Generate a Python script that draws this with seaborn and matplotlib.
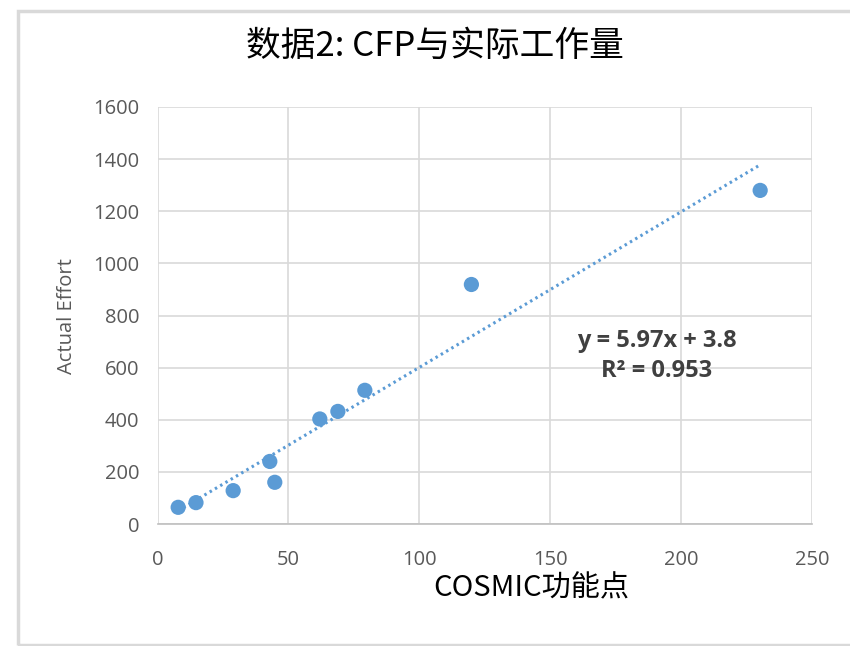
import matplotlib
matplotlib.use("Agg")
import matplotlib.pyplot as plt
import seaborn as sns
import numpy as np
import pandas as pd
from matplotlib.patches import Rectangle

# Data
cosmic_fp = [7.9, 14.7, 28.9, 42.9, 44.8, 62.0, 68.9, 79.2, 119.9, 230.2]
actual_effort = [64, 82, 128, 240, 160, 403, 432, 513, 919, 1280]
slope = 5.97
intercept = 3.8
r_squared = 0.953
x_ticks = [0, 50, 100, 150, 200, 250]
y_ticks = [0, 200, 400, 600, 800, 1000, 1200, 1400, 1600]
title_text = "数据2: CFP与实际工作量"
x_label = "COSMIC功能点"
y_label = "Actual Effort"

df = pd.DataFrame({"cfp": cosmic_fp, "effort": actual_effort})

sns.set_theme(style="whitegrid")
plt.rcParams["font.family"] = ["Noto Sans CJK SC", "DejaVu Sans"]

blue = "#5B9BD5"
tick_gray = "#595959"

fig = plt.figure(figsize=(8.5, 6.46), dpi=100)
fig.patch.set_facecolor("white")
# outer chart border
fig.patches.append(Rectangle((18 / 850, 1 / 646), 1.0, 1 - 11 / 646 - 1 / 646,
                             transform=fig.transFigure, fill=False,
                             edgecolor="#d9d9d9", linewidth=2.5, zorder=0))

ax = fig.add_axes([157.5 / 850, 1 - 524 / 646, (812 - 157.5) / 850, (524 - 107) / 646])

# trendline
xs = np.array([min(cosmic_fp), max(cosmic_fp)])
line_df = pd.DataFrame({"cfp": xs, "effort": slope * xs + intercept})
sns.lineplot(data=line_df, x="cfp", y="effort", ax=ax, color=blue,
             linestyle=(0, (0.8, 1.2)), linewidth=2.2, zorder=2)

sns.scatterplot(data=df, x="cfp", y="effort", ax=ax, color=blue, s=120,
                edgecolor="none", zorder=3)

ax.set_xlim(0, 250)
ax.set_ylim(0, 1600)
ax.set_xticks(x_ticks)
ax.set_yticks(y_ticks)
ax.grid(True, color="#d9d9d9", linewidth=1.2)
for s in ax.spines.values():
    s.set_visible(False)
ax.spines["bottom"].set_visible(True)
ax.spines["bottom"].set_color("#bfbfbf")
ax.spines["bottom"].set_linewidth(1.2)
ax.tick_params(axis="both", colors=tick_gray, labelsize=14.5, length=0)
ax.tick_params(axis="x", pad=19)
ax.tick_params(axis="y", pad=13)
for lab in ax.get_xticklabels() + ax.get_yticklabels():
    lab.set_fontfamily(["Open Sans", "DejaVu Sans"])

ax.set_xlabel(x_label, fontsize=21, color="black")
ax.xaxis.label.set_fontfamily(["Noto Sans CJK SC", "DejaVu Sans"])
ax.xaxis.label.set_fontweight("light")
ax.xaxis.set_label_coords((531 - 157.5) / (812 - 157.5), -(588 - 524) / (524 - 107))
ax.xaxis.label.set_va("center")
ax.set_ylabel(y_label, fontsize=14.5, color=tick_gray)
ax.yaxis.label.set_fontfamily(["Open Sans", "DejaVu Sans"])
ax.yaxis.set_label_coords(-(157.5 - 67) / (812 - 157.5), (524 - 316) / (524 - 107))
ax.yaxis.label.set_va("center")

fig.text(435 / 850, 1 - 46 / 646, title_text, ha="center", va="center",
         fontsize=25, color="black", fontweight="light",
         family=["Noto Sans CJK SC", "DejaVu Sans"])

eq = f"y = {slope}x + {intercept}\nR² = {r_squared}"
ax.text((657 - 157.5) / (812 - 157.5), (524 - 356) / (524 - 107), eq,
        transform=ax.transAxes, ha="center", va="center",
        fontsize=17, fontweight="bold", color="#404040", linespacing=1.3,
        family=["Open Sans", "DejaVu Sans"])

fig.savefig("out.png", dpi=100)
